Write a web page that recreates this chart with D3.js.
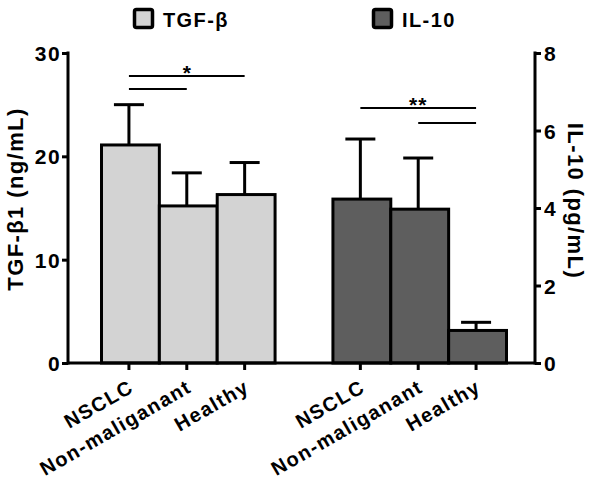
<!DOCTYPE html>
<html><head><meta charset="utf-8">
<script src="https://cdn.jsdelivr.net/npm/d3@7"></script>
<style>
html,body{margin:0;padding:0;background:#fff;}
text{font-family:"Liberation Sans",Arial,sans-serif;font-weight:bold;fill:#000;}
</style></head>
<body><svg id="c" width="600" height="482"></svg>
<script>
// ---- data ----
const groups = ["NSCLC", "Non-maliganant", "Healthy"];
const tgfMean = [21.1, 15.2, 16.3];
const tgfErr  = [3.9, 3.2, 3.1];
const il10Mean = [4.23, 3.97, 0.84];
const il10Err  = [1.55, 1.32, 0.21];
const leftTicks = [0, 10, 20, 30];
const rightTicks = [0, 2, 4, 6, 8];
const seriesNames = ["TGF-β", "IL-10"];
const seriesColors = ["#d3d3d3", "#5e5e5e"];

// ---- layout ----
const svg = d3.select("#c");
const axL = 68, axR = 535, y0 = 363, yT = 53;
const barsL = 100, barsR = 505;
const LS = "1.4px";

const slots = ["t0","t1","t2","gap","i0","i1","i2"];
const x = d3.scaleBand().domain(slots).range([barsL, barsR]).padding(0);
const yL = d3.scaleLinear().domain([0, 30]).range([y0, yT]);
const yR = d3.scaleLinear().domain([0, 8]).range([y0, yT]);

const bars = [];
groups.forEach((g,i)=>bars.push({key:"t"+i, label:g, v:tgfMean[i], e:tgfErr[i], y:yL, c:seriesColors[0]}));
groups.forEach((g,i)=>bars.push({key:"i"+i, label:g, v:il10Mean[i], e:il10Err[i], y:yR, c:seriesColors[1]}));

// error bars (upper only)
const capHalf = 15;
const eb = svg.append("g").attr("stroke","#000").attr("stroke-width",3);
bars.forEach(b=>{
  const cx = x(b.key) + x.bandwidth()/2;
  eb.append("line").attr("x1",cx).attr("x2",cx).attr("y1",b.y(b.v)).attr("y2",b.y(b.v+b.e));
  eb.append("line").attr("x1",cx-capHalf).attr("x2",cx+capHalf).attr("y1",b.y(b.v+b.e)).attr("y2",b.y(b.v+b.e));
});

// bars
svg.append("g").selectAll("rect").data(bars).join("rect")
  .attr("x", d=>x(d.key)+1.5).attr("width", x.bandwidth())
  .attr("y", d=>d.y(d.v)).attr("height", d=>y0-d.y(d.v))
  .attr("fill", d=>d.c).attr("stroke","#000").attr("stroke-width",3);

// left / right axes
const gl = svg.append("g").attr("transform",`translate(${axL},0)`)
  .call(d3.axisLeft(yL).tickValues(leftTicks).tickSize(6).tickPadding(1).tickFormat(d3.format("d")));
const gr = svg.append("g").attr("transform",`translate(${axR},0)`)
  .call(d3.axisRight(yR).tickValues(rightTicks).tickSize(6).tickPadding(3).tickFormat(d3.format("d")));
[gl,gr].forEach(g=>{
  g.select(".domain").remove();
  g.selectAll(".tick line").attr("stroke","#000").attr("stroke-width",3);
  g.selectAll(".tick text").style("font-size","21px").style("letter-spacing",LS).attr("dy","0.36em");
});
svg.append("line").attr("x1",axL).attr("x2",axL).attr("y1",yT-1.5).attr("y2",y0+1.5).attr("stroke","#000").attr("stroke-width",3);
svg.append("line").attr("x1",axR).attr("x2",axR).attr("y1",yT-1.5).attr("y2",y0+1.5).attr("stroke","#000").attr("stroke-width",3);

// x axis
svg.append("line").attr("x1",axL).attr("x2",axR).attr("y1",y0).attr("y2",y0).attr("stroke","#000").attr("stroke-width",3);
const xt = svg.append("g");
bars.forEach(b=>{
  const cx = x(b.key) + x.bandwidth()/2;
  xt.append("line").attr("x1",cx).attr("x2",cx).attr("y1",y0).attr("y2",y0+7).attr("stroke","#000").attr("stroke-width",3);
  xt.append("text").attr("transform",`translate(${cx+6},${y0+28}) rotate(-30)`)
    .attr("text-anchor","end").style("font-size","20px").style("letter-spacing",LS).text(b.label);
});

// axis titles
svg.append("text").attr("transform",`translate(${23},${199}) rotate(-90)`)
  .attr("text-anchor","middle").style("font-size","22px").style("letter-spacing",LS).text("TGF-β1 (ng/mL)");
svg.append("text").attr("transform",`translate(${568},${201}) rotate(90)`)
  .attr("text-anchor","middle").style("font-size","22px").style("letter-spacing",LS).text("IL-10 (pg/mL)");

// legend
const lg = [{x:133, name:seriesNames[0], c:seriesColors[0]},{x:372, name:seriesNames[1], c:seriesColors[1]}];
lg.forEach(l=>{
  svg.append("rect").attr("x",l.x+1.5).attr("y",9.5).attr("width",18).attr("height",18).attr("rx",2)
    .attr("fill",l.c).attr("stroke","#000").attr("stroke-width",3.5);
  svg.append("text").attr("x",l.x+30).attr("y",27).style("font-size","20px").style("letter-spacing",LS).text(l.name);
});

// significance brackets
const cxOf = k => x(k)+x.bandwidth()/2;
const sig = svg.append("g").attr("stroke","#000").attr("stroke-width",2);
sig.append("line").attr("x1",cxOf("t0")).attr("x2",cxOf("t2")).attr("y1",76).attr("y2",76);
sig.append("line").attr("x1",cxOf("t0")).attr("x2",cxOf("t1")).attr("y1",89).attr("y2",89);
sig.append("line").attr("x1",cxOf("i0")).attr("x2",cxOf("i2")).attr("y1",108).attr("y2",108);
sig.append("line").attr("x1",cxOf("i1")).attr("x2",cxOf("i2")).attr("y1",123).attr("y2",123);
svg.append("text").attr("x",(cxOf("t0")+cxOf("t2"))/2).attr("y",80).attr("text-anchor","middle").style("font-size","21px").text("*");
svg.append("text").attr("x",(cxOf("i0")+cxOf("i2"))/2).attr("y",112).attr("text-anchor","middle").style("font-size","21px").style("letter-spacing","1px").text("**");
</script></body></html>
